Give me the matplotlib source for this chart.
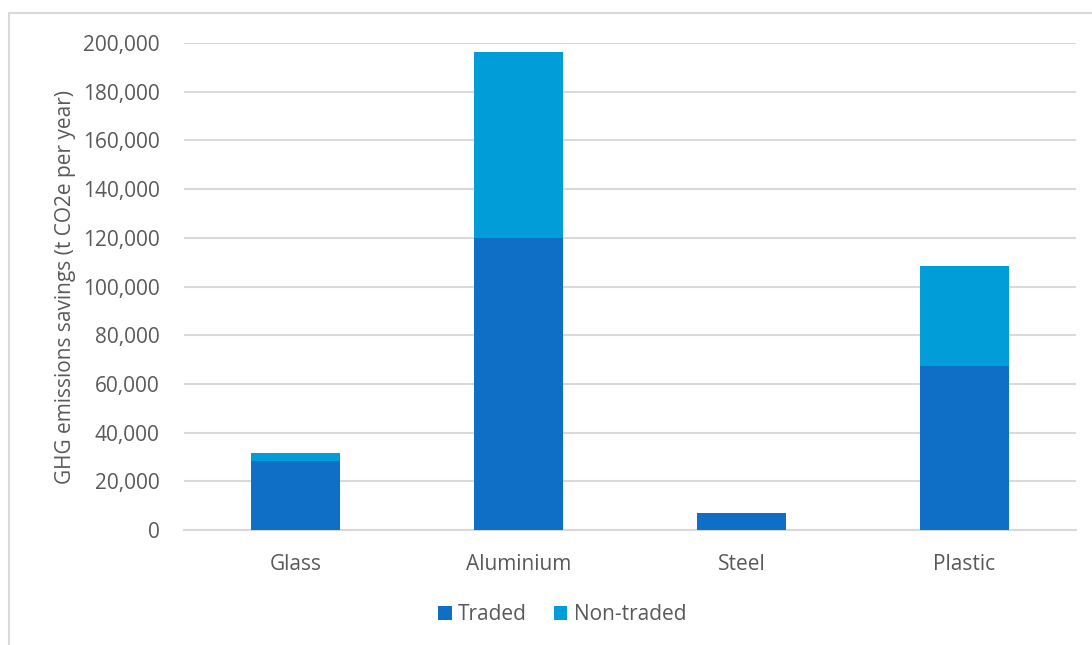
import matplotlib
matplotlib.use("Agg")
import matplotlib.pyplot as plt
from matplotlib.patches import Rectangle
from matplotlib.ticker import FuncFormatter, MultipleLocator

categories = ["Glass", "Aluminium", "Steel", "Plastic"]
traded = [28300, 120000, 6900, 67400]
non_traded = [3200, 76300, 0, 40900]
series_names = ["Traded", "Non-traded"]
colors = ["#0F6FC6", "#009DD9"]
text_color = "#595959"
grid_color = "#D9D9D9"

plt.rcParams['font.family'] = ['Open Sans', 'DejaVu Sans']

W, H = 1092, 645
fig = plt.figure(figsize=(W / 100, H / 100), dpi=100)
fig.patch.set_facecolor("white")

# outer chart frame
fig.patches.append(Rectangle((8.5 / W, -0.1), 1.2, 1.1 - 13.5 / H,
                             transform=fig.transFigure, fill=False,
                             edgecolor=grid_color, linewidth=1.5))

ax = fig.add_axes([184 / W, 115 / H, (1076 - 184) / W, (530 - 43) / H])
x = range(len(categories))
ax.bar(x, traded, width=0.4, color=colors[0], label=series_names[0], zorder=3)
ax.bar(x, non_traded, width=0.4, bottom=traded, color=colors[1],
       label=series_names[1], zorder=3)

ax.set_xlim(-0.5, len(categories) - 0.5)
ax.set_ylim(0, 200000)
ax.yaxis.set_major_locator(MultipleLocator(20000))
ax.yaxis.set_major_formatter(FuncFormatter(lambda v, p: f"{int(v):,}"))
ax.set_xticks(list(x))
ax.set_xticklabels(categories)

for s in ["top", "right", "left"]:
    ax.spines[s].set_visible(False)
ax.spines["bottom"].set_color(grid_color)
ax.spines["bottom"].set_linewidth(1.5)
ax.yaxis.grid(True, color=grid_color, linewidth=1.5, zorder=0)
ax.set_axisbelow(True)
ax.tick_params(axis="both", length=0, colors=text_color, labelsize=15)
ax.tick_params(axis="x", pad=17)
ax.tick_params(axis="y", pad=17.5)
ax.set_ylabel("GHG emissions savings (t CO2e per year)", color=text_color,
              fontsize=15, labelpad=5)

leg = fig.legend(loc="center", bbox_to_anchor=(562 / W, 1 - 615 / H), ncol=2,
                 frameon=False, fontsize=15, handlelength=0.65,
                 handleheight=0.65, handletextpad=0.3, columnspacing=1.3)
for t in leg.get_texts():
    t.set_color(text_color)

fig.savefig("out.png", dpi=100, facecolor="white")
